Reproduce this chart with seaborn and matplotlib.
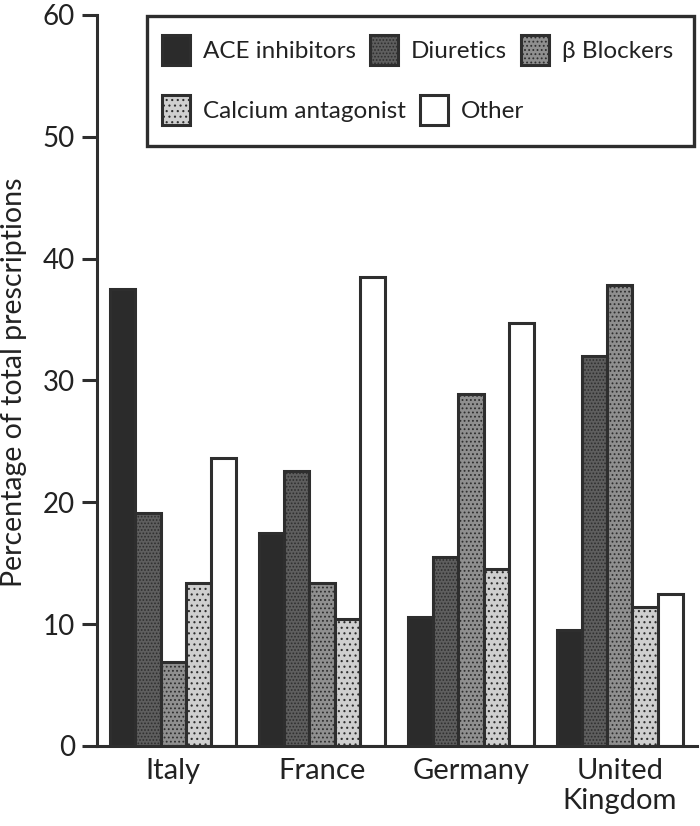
import numpy as np
import pandas as pd
import seaborn as sns
import matplotlib.pyplot as plt
from matplotlib.patches import Patch, Rectangle

# values
countries = ['Italy', 'France', 'Germany', 'United\nKingdom']
drugs = ['ACE inhibitors', 'Diuretics', 'β Blockers', 'Calcium antagonist', 'Other']
ace = [37.5, 17.5, 10.6, 9.5]
diuretics = [19.1, 22.6, 15.5, 32.0]
beta = [6.9, 13.4, 28.9, 37.8]
calcium = [13.4, 10.4, 14.5, 11.4]
other = [23.6, 38.5, 34.7, 12.5]
yticks = [0, 10, 20, 30, 40, 50, 60]

# grey stipple look
FACES = ['#2b2b2b', '#5e5e5e', '#8f8f8f', '#cfcfcf', '#ffffff']
HATCHES = ['', '.....', '....', '...', '']
EDGE = '#2e2e2e'
TXT = '#222222'
FS = 17.5

rows = []
for drug, vals in zip(drugs, [ace, diuretics, beta, calcium, other]):
    for c, v in zip(countries, vals):
        rows.append({'country': c, 'drug': drug, 'value': v})
df = pd.DataFrame(rows)

sns.set_style('white')
plt.rcParams['font.family'] = ['Lato', 'DejaVu Serif']
plt.rcParams['hatch.linewidth'] = 0.8

fig = plt.figure(figsize=(7, 8.26), dpi=100)
ax = fig.add_axes([0.139, 0.097, 0.857, 0.885])

sns.barplot(data=df, x='country', y='value', hue='drug', hue_order=drugs,
            palette=FACES, width=0.845, edgecolor=EDGE, linewidth=2.2,
            saturation=1, legend=False, ax=ax)

for cont, h in zip(ax.containers, HATCHES):
    for p in cont:
        p.set_hatch(h)

ax.set_xlim(-0.51, 3.52)
ax.set_ylim(0, 60)
ax.set_yticks(yticks)
ax.set_xlabel('')
ax.set_ylabel('Percentage of total prescriptions', fontsize=20.5, color=TXT)
ax.yaxis.set_label_coords(-0.118, 0.497)

for s in ['top', 'right']:
    ax.spines[s].set_visible(False)
for s in ['left', 'bottom']:
    ax.spines[s].set_linewidth(2.2)
    ax.spines[s].set_color(EDGE)

ax.tick_params(axis='y', length=11, width=2.2, color=EDGE, pad=5,
               labelsize=20, labelcolor=TXT, left=True)
ax.tick_params(axis='x', length=0, pad=9, labelsize=21, labelcolor=TXT)
for lab in ax.get_xticklabels():
    lab.set_linespacing(1.15)

# legend: two rows inside a frame
handles = [Patch(facecolor=f, edgecolor=EDGE, linewidth=2.2, hatch=h)
           for f, h in zip(FACES, HATCHES)]
kw = dict(frameon=False, fontsize=FS, handlelength=1.15, handleheight=1.5,
          handletextpad=0.55, columnspacing=0.55, borderaxespad=0, borderpad=0,
          labelcolor=TXT, loc='center left')
leg1 = ax.legend(handles[:3], drugs[:3], ncol=3, bbox_to_anchor=(0.108, 0.952), **kw)
ax.add_artist(leg1)
leg2 = ax.legend(handles[3:], drugs[3:], ncol=2, bbox_to_anchor=(0.108, 0.870), **kw)
ax.add_artist(Rectangle((0.083, 0.820), 0.912, 0.178, transform=ax.transAxes,
                        fill=False, edgecolor=EDGE, linewidth=2.4, clip_on=False))

fig.savefig('out.png', dpi=100)
